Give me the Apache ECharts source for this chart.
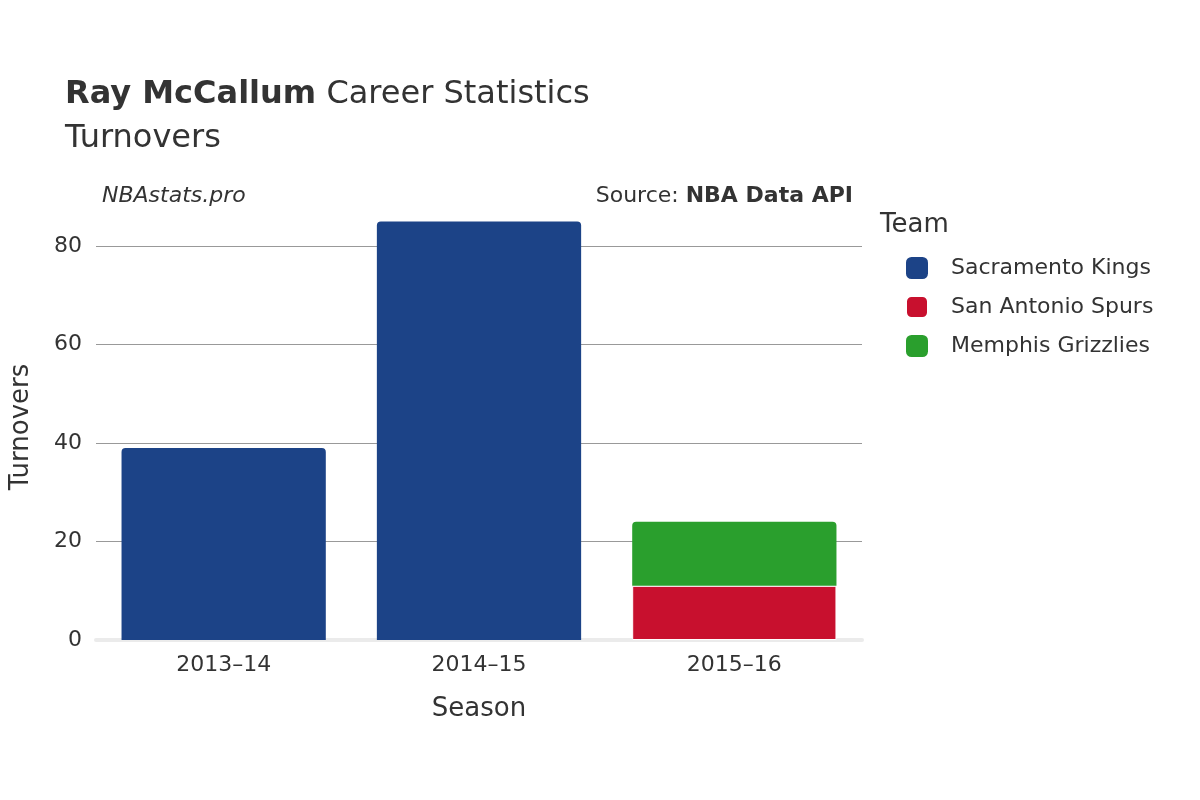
<!DOCTYPE html><html><head><meta charset="utf-8"><script src="https://cdn.jsdelivr.net/npm/echarts@6/dist/echarts.min.js"></script></head><body style="margin:0"><div id="c" style="width:1200px;height:800px"></div><script>
const seasons=['2013–14','2014–15','2015–16'];
const kings=[39,85,null];
const spurs=[null,null,11];
const grizzlies=[null,null,13];
const yTicks=[0,20,40,60,80];
const F='DejaVu Sans';
const c=echarts.init(document.getElementById('c'));
const bs={borderRadius:[4,4,0,0]};
c.setOption({
textStyle:{fontFamily:F},
title:[{text:'{b|Ray McCallum} Career Statistics\nTurnovers',left:60,top:68,textStyle:{fontSize:32,fontWeight:'normal',color:'#333',lineHeight:44,rich:{b:{fontSize:32,fontWeight:'bold',color:'#333',fontFamily:F}}}},
{text:'NBAstats.pro',left:97,top:180,textStyle:{fontSize:22,fontStyle:'italic',fontWeight:'normal',color:'#333'}},
{text:'Source: {b|NBA Data API}',right:342,top:180,textStyle:{fontSize:22,fontWeight:'normal',color:'#333',rich:{b:{fontSize:22,fontWeight:'bold',color:'#333',fontFamily:F}}}}],
legend:{orient:'vertical',left:900,top:252,itemWidth:22,itemHeight:22,itemGap:16,icon:'roundRect',textStyle:{fontSize:22,color:'#333',padding:[0,0,0,18]},data:['Sacramento Kings','San Antonio Spurs','Memphis Grizzlies']},
graphic:[{type:'text',left:880,top:212,style:{text:'Team',fontSize:26,fill:'#333',fontFamily:F}}],
grid:{left:93,right:338,top:214,bottom:160},
xAxis:{type:'category',data:seasons,name:'Season',nameLocation:'middle',nameGap:56,nameTextStyle:{fontSize:26,color:'#333'},axisLine:{lineStyle:{color:'#ebebeb',width:4}},axisTick:{show:false},axisLabel:{fontSize:22,color:'#333',margin:14}},
yAxis:{type:'value',min:0,max:86.5,name:'Turnovers',nameLocation:'middle',nameGap:62,nameTextStyle:{fontSize:26,color:'#333'},axisLabel:{fontSize:22,color:'#333',customValues:yTicks,margin:14},axisTick:{show:false,customValues:yTicks},splitLine:{lineStyle:{color:'#999'}}},
series:[
{name:'Sacramento Kings',type:'bar',stack:'a',barWidth:'80%',data:kings,itemStyle:{color:'#1c4387',...bs}},
{name:'San Antonio Spurs',type:'bar',stack:'a',data:spurs,itemStyle:{color:'#c8102e',borderColor:'#fff',borderWidth:1}},
{name:'Memphis Grizzlies',type:'bar',stack:'a',data:grizzlies,itemStyle:{color:'#2a9f2d',...bs}}]
});
</script></body></html>
